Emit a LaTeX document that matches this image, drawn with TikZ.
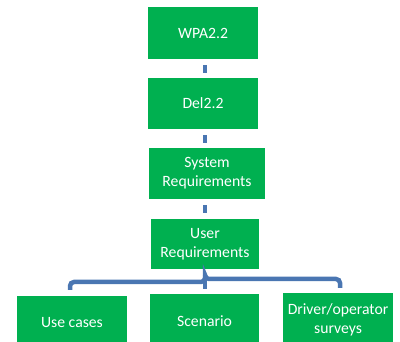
\documentclass[tikz,border=0pt]{standalone}
\usepackage{fontspec}
\setmainfont{Carlito}
\definecolor{boxgreen}{HTML}{00B050}
\definecolor{connblue}{HTML}{4A76B2}
\begin{document}
\begin{tikzpicture}[x=1pt,y=-1pt,
  box/.style={fill=boxgreen, text=white, inner sep=0pt, align=center,
    font=\fontsize{15.7}{19}\selectfont},
  conn/.style={draw=connblue, line width=4.5pt}]
\useasboundingbox (0,0) rectangle (400,342);
\clip (0,0) rectangle (400,342);
\node[box, minimum width=110pt, minimum height=52pt] (wpa) at (203,33) {WPA2.2};
\node[box, minimum width=110pt, minimum height=51pt] (del) at (203,103.5) {Del2.2};
\node[box, minimum width=116pt, minimum height=51pt] (sys) at (207,173.5) {System\\Requirements};
\node[box, minimum width=108pt, minimum height=50pt] (user) at (205,244) {User\\Requirements};
\node[box, minimum width=110pt, minimum height=54pt] (uc) at (72,323) {Use cases};
\node[box, minimum width=109pt, minimum height=54pt] (scen) at (204.5,321) {Scenario};
\node[box, minimum width=110pt, minimum height=54pt] (drv) at (338,320) {Driver/operator\\surveys};
\draw[conn, shorten <=6pt, shorten >=5pt] (wpa.south -| user.center) -- (del.north -| user.center);
\draw[conn, shorten <=6pt, shorten >=5pt] (del.south -| user.center) -- (sys.north -| user.center);
\draw[conn, shorten <=6pt, shorten >=6pt] (sys.south -| user.center) -- (user.north);
\coordinate (hl) at (70,282);
\coordinate (hr) at (340,279);
\draw[conn, rounded corners=4pt, shorten >=6pt] ([yshift=-6pt]user.south) |- (hl) -- (hl |- uc.north);
\draw[conn, rounded corners=4pt, shorten >=5pt] ([yshift=-6pt]user.south) |- (hr) -- (hr |- drv.north);
\draw[conn, shorten >=5pt] ([yshift=-6pt]user.south) -- (user.south |- scen.north);
\end{tikzpicture}
\end{document}
